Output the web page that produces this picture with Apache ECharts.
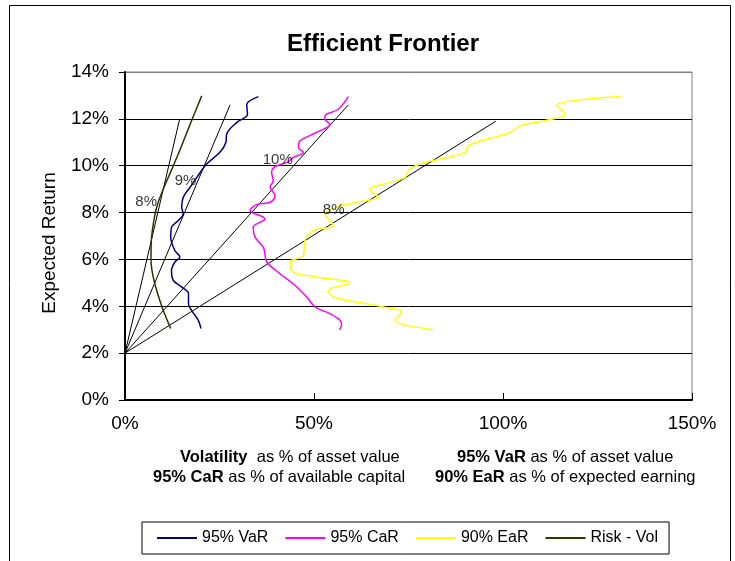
<!DOCTYPE html>
<html>
<head>
<meta charset="utf-8">
<script src="https://cdn.jsdelivr.net/npm/echarts@6/dist/echarts.min.js"></script>
<style>
  html, body { margin: 0; padding: 0; background: #fff; }
  #chart { width: 735px; height: 561px; }
</style>
</head>
<body>
<div id="chart"></div>
<script>
// Each frontier point: [risk measure in %, expected return in %]
const varCurve = [
  [35.3,12.95],[32.2,12.6],[32.4,12.2],[29.5,11.84],[26.9,11.35],[26.7,11.0],[25.1,10.57],
  [21.6,10.07],[19.0,9.5],[17.2,9.08],[15.4,8.65],[15.0,8.23],[15.4,7.94],[14.1,7.66],
  [12.3,7.37],[12.1,6.95],[13.2,6.38],[14.55,6.1],[13.2,5.89],[12.3,5.53],[12.8,5.1],
  [15.0,4.82],[16.8,4.54],[16.8,4.11],[17.6,3.83],[19.4,3.4],[20.1,3.05]
];
const carCurve = [
  [59.1,12.95],[56.4,12.41],[52.9,12.13],[52.9,11.99],[54.2,11.77],[50.7,11.42],[46.3,11.06],
  [45.9,10.78],[47.2,10.57],[44.5,10.35],[42.8,10.14],[39.7,9.96],[38.8,9.71],[39.2,9.36],
  [38.4,9.08],[39.7,8.72],[38.4,8.44],[34.8,8.34],[33.1,8.09],[37.0,7.73],[33.9,7.37],
  [34.4,6.95],[36.6,6.52],[37.0,6.24],[37.5,5.89],[41.0,5.39],[44.5,4.96],[48.1,4.4],
  [50.3,3.97],[54.2,3.69],[56.9,3.4],[57.3,3.19],[56.7,3.0]
];
const earCurve = [
  [131.1,12.95],[114.2,12.58],[116.4,12.2],[111.6,11.94],[104.5,11.7],[101.9,11.42],[95.7,11.13],
  [90.8,10.85],[90.0,10.57],[83.3,10.28],[78.0,10.07],[74.9,9.79],[74.1,9.5],[70.1,9.29],
  [64.8,9.0],[67.0,8.65],[61.3,8.44],[56.0,8.23],[52.9,7.94],[55.1,7.45],[49.8,7.23],
  [47.6,6.81],[47.2,6.17],[43.7,5.89],[44.5,5.46],[50.7,5.25],[59.5,4.99],[53.8,4.68],
  [55.1,4.4],[68.3,3.97],[73.2,3.76],[71.4,3.4],[81.6,3.0]
];
const volCurve = [
  [20.3,12.98],[17.7,11.96],[14.8,10.78],[12.6,9.93],[9.97,8.94],[8.38,8.23],
  [7.5,7.52],[6.97,6.81],[6.88,5.96],[7.67,5.1],[9.8,3.97],[12.1,3.05]
];

// Straight lines from the 2% risk-free return out past each frontier
const riskFree = [0, 2];
const lineEnds = [[14.4,11.95],[27.8,12.6],[59.1,12.6],[98.1,11.9]];

// Return labels at the tangency points
const tangentNames = ['8%', '9%', '10%', '8%'];
const tangentPos = [[5.6,8.45],[16.0,9.36],[40.4,10.26],[55.2,8.13]];

const seriesNames = ['95% VaR', '95% CaR', '90% EaR', 'Risk - Vol'];
const seriesColors = ['#000080', '#FF00FF', '#FFFF00', '#333300'];
const curves = [varCurve, carCurve, earCurve, volCurve];

const xTicks = [0, 50, 100, 150];
const yTicks = [0, 2, 4, 6, 8, 10, 12, 14];

const FONT = '"Liberation Sans", Arial, sans-serif';

const chart = echarts.init(document.getElementById('chart'));

const series = [];
lineEnds.forEach(function (end) {
  series.push({
    type: 'line',
    data: [riskFree, end],
    symbol: 'none',
    silent: true,
    lineStyle: { color: '#000', width: 1 },
    z: 2
  });
});
curves.forEach(function (c, i) {
  series.push({
    name: seriesNames[i],
    type: 'line',
    data: c,
    symbol: 'none',
    smooth: 0.35,
    lineStyle: { color: seriesColors[i], width: 1.5 },
    itemStyle: { color: seriesColors[i] },
    z: 3
  });
});
series.push({
  type: 'scatter',
  symbolSize: 0,
  silent: true,
  data: tangentNames.map(function (n, i) { return { name: n, value: tangentPos[i] }; }),
  label: {
    show: true,
    position: 'inside',
    formatter: '{b}',
    color: '#000',
    fontFamily: FONT,
    fontSize: 15
  },
  z: 5
});

const richText = {
  b: { fontFamily: FONT, fontSize: 16.5, fontWeight: 'bold', fill: '#000' },
  n: { fontFamily: FONT, fontSize: 16.5, fill: '#000' }
};

chart.setOption({
  animation: false,
  backgroundColor: '#fff',
  title: {
    text: 'Efficient Frontier',
    left: 378,
    top: 27,
    textAlign: 'center',
    textStyle: { fontFamily: FONT, fontSize: 24, fontWeight: 'bold', color: '#000' }
  },
  grid: {
    left: 125, top: 72, width: 567, height: 328,
    show: true, borderColor: '#808080', borderWidth: 1, backgroundColor: 'transparent'
  },
  xAxis: {
    type: 'value',
    min: xTicks[0], max: xTicks[xTicks.length - 1], interval: 50,
    axisLine: { show: true, lineStyle: { color: '#000', width: 2 } },
    axisTick: { show: true, inside: true, length: 7, lineStyle: { color: '#000', width: 1 } },
    axisLabel: { formatter: '{value}%', margin: 14, fontFamily: FONT, fontSize: 19, color: '#000' },
    splitLine: { show: false }
  },
  yAxis: {
    type: 'value',
    min: yTicks[0], max: yTicks[yTicks.length - 1], interval: 2,
    axisLine: { show: true, lineStyle: { color: '#000', width: 2 } },
    axisTick: { show: true, length: 6, lineStyle: { color: '#000', width: 1 } },
    axisLabel: { formatter: '{value}%', margin: 16, fontFamily: FONT, fontSize: 19, color: '#000' },
    splitLine: {
      show: true,
      lineStyle: { color: ['#000', '#000', '#000', '#000', '#000', '#000', '#000', '#808080'], width: 1 }
    }
  },
  legend: {
    data: seriesNames,
    left: 142, top: 522,
    orient: 'horizontal',
    padding: [8, 11, 8, 15],
    borderColor: '#000', borderWidth: 1,
    backgroundColor: '#fff',
    icon: 'rect',
    itemWidth: 40, itemHeight: 2, itemGap: 17,
    textStyle: { fontFamily: FONT, fontSize: 16, color: '#000' }
  },
  graphic: [
    {
      type: 'rect',
      shape: { x: 9.5, y: 5.5, width: 721, height: 620 },
      style: { fill: 'none', stroke: '#000', lineWidth: 1 },
      silent: true, z: 0
    },
    {
      type: 'text',
      x: 50, y: 243,
      rotation: Math.PI / 2,
      style: {
        text: 'Expected Return', fontFamily: FONT, fontSize: 19, fill: '#000',
        align: 'center', verticalAlign: 'middle'
      }
    },
    {
      type: 'text', x: 180, y: 457,
      style: { text: '{b|Volatility}{n|  as % of asset value}', verticalAlign: 'middle', align: 'left', rich: richText }
    },
    {
      type: 'text', x: 153, y: 477,
      style: { text: '{b|95% CaR}{n| as % of available capital}', verticalAlign: 'middle', align: 'left', rich: richText }
    },
    {
      type: 'text', x: 457, y: 457,
      style: { text: '{b|95% VaR}{n| as % of asset value}', verticalAlign: 'middle', align: 'left', rich: richText }
    },
    {
      type: 'text', x: 435, y: 477,
      style: { text: '{b|90% EaR}{n| as % of expected earning}', verticalAlign: 'middle', align: 'left', rich: richText }
    }
  ],
  series: series
});
</script>
</body>
</html>
